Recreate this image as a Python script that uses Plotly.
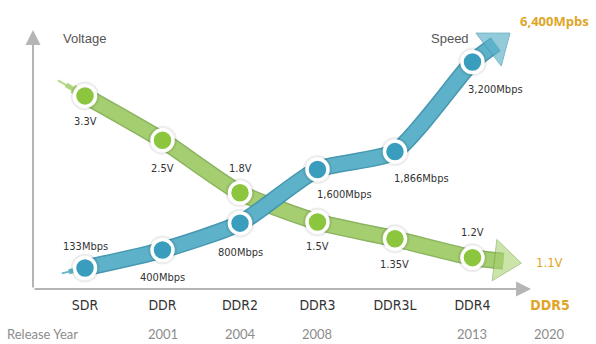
import math
import plotly.graph_objects as go

# ---- data -------------------------------------------------------------
generations = ["SDR", "DDR", "DDR2", "DDR3", "DDR3L", "DDR4", "DDR5"]
release_years = ["", "2001", "2004", "2008", "", "2013", "2020"]

voltage_v = [3.3, 2.5, 1.8, 1.5, 1.35, 1.2]
voltage_labels = ["3.3V", "2.5V", "1.8V", "1.5V", "1.35V", "1.2V"]

speed_mbps = [133, 400, 800, 1600, 1866, 3200]
speed_labels = ["133Mbps", "400Mbps", "800Mbps", "1,600Mbps", "1,866Mbps", "3,200Mbps"]

ddr5_voltage = 1.1
ddr5_voltage_label = "1.1V"
ddr5_speed_label = "6,400Mpbs"

# ---- styles -----------------------------------------------------------
GREEN_BAND = "#a9d373"
GREEN_EDGE = "#78a746"
GREEN_DOT = "#8cc63f"
BLUE_BAND = "#5fb3ca"
BLUE_EDGE = "#3e93ad"
BLUE_DOT = "#3b9dbd"
GOLD = "#e0a526"
LABEL_FONT = "DejaVu Sans Condensed, Roboto, sans-serif"

n = len(voltage_v)
xs = list(range(n))
logv = [math.log10(v) for v in voltage_v]

# label offsets (pixels) for the value captions
volt_dy = [-26, -28, 24, -25, -26, 25]
volt_dx = [0, 0, 0, 0, 0, 0]
speed_dy = [21, -27, -29, -25, -27, -28]
speed_dx = [0, 0, 0, 27, 27, 23]

fig = go.Figure()


def band(x, y, axis, fill, edge, tail_x, tail_y, tip_x, tip_y, alpha):
    # tapered tail drawn as overlapping strokes of growing width
    for frac, w in [(1.0, 2), (0.7, 5), (0.45, 9), (0.2, 13)]:
        sx = x[0] + (tail_x - x[0]) * frac
        sy = y[0] + (tail_y - y[0]) * frac
        fig.add_trace(go.Scatter(
            x=[sx, x[0]], y=[sy, y[0]], yaxis=axis, mode="lines",
            line=dict(color=fill, width=w), hoverinfo="skip", showlegend=False,
            opacity=alpha))
    bx = list(x) + [tip_x]
    by = list(y) + [tip_y]
    fig.add_trace(go.Scatter(
        x=bx, y=by, yaxis=axis, mode="lines",
        line=dict(color=edge, width=17, shape="spline", smoothing=0.6),
        hoverinfo="skip", showlegend=False, opacity=alpha))
    fig.add_trace(go.Scatter(
        x=bx, y=by, yaxis=axis, mode="lines+markers",
        line=dict(color=fill, width=14, shape="spline", smoothing=0.6),
        marker=dict(symbol="triangle-up", angleref="previous",
                    size=[0] * len(x) + [36], color=fill,
                    line=dict(color=edge, width=1)),
        hoverinfo="skip", showlegend=False, opacity=alpha))


# speed band (linear scale), drawn first so the voltage band sits over it
s_tail = speed_mbps[0] - (speed_mbps[1] - speed_mbps[0]) * 0.3
s_tip = speed_mbps[-1] + (speed_mbps[-1] - speed_mbps[-2]) * 0.2
band(xs, speed_mbps, "y2", BLUE_BAND, BLUE_EDGE, -0.3, s_tail, n - 1 + 0.3, s_tip, 0.95)

# voltage band (log scale), tail and head extrapolated from the series
v_tail = 10 ** (logv[0] + (logv[0] - logv[1]) * 0.35)
v_tip = 10 ** (logv[-1] + (math.log10(ddr5_voltage) - logv[-1]) * 0.25)
band(xs, voltage_v, "y", GREEN_BAND, GREEN_EDGE, -0.35, v_tail, n - 1 + 0.4, v_tip, 0.85)

# circle markers with a soft halo
for vals, axis, col in [(voltage_v, "y", GREEN_DOT), (speed_mbps, "y2", BLUE_DOT)]:
    fig.add_trace(go.Scatter(
        x=xs, y=vals, yaxis=axis, mode="markers",
        marker=dict(size=29, color="rgba(0,0,0,0.07)"),
        hoverinfo="skip", showlegend=False))
    fig.add_trace(go.Scatter(
        x=xs, y=vals, yaxis=axis, mode="markers",
        marker=dict(size=21, color=col, line=dict(color="white", width=3.5)),
        hoverinfo="skip", showlegend=False))

annotations = []

# value captions
for i in range(n):
    annotations.append(dict(
        x=xs[i], y=logv[i], xref="x", yref="y", text=voltage_labels[i],
        showarrow=False, xshift=volt_dx[i], yshift=volt_dy[i],
        xanchor="center", yanchor="middle",
        font=dict(family=LABEL_FONT, size=11, color="#333333")))
    annotations.append(dict(
        x=xs[i], y=speed_mbps[i], xref="x", yref="y2", text=speed_labels[i],
        showarrow=False, xshift=speed_dx[i], yshift=speed_dy[i],
        xanchor="center", yanchor="middle",
        font=dict(family=LABEL_FONT, size=11, color="#333333")))

# DDR5 voltage target
annotations.append(dict(
    x=n, y=math.log10(ddr5_voltage), xref="x", yref="y", text=ddr5_voltage_label,
    showarrow=False, yshift=9, xanchor="center", yanchor="middle",
    font=dict(family=LABEL_FONT, size=13, color=GOLD)))

# DDR5 speed target
annotations.append(dict(
    x=0.931, y=0.927, xref="paper", yref="paper", text="<b>" + ddr5_speed_label + "</b>",
    showarrow=False, xanchor="center", yanchor="middle",
    font=dict(family="Open Sans, sans-serif", size=13, color=GOLD)))

# series titles
for txt, px in [("Voltage", 0.1426), ("Speed", 0.755)]:
    annotations.append(dict(
        x=px, y=0.8685, xref="paper", yref="paper", text=txt, showarrow=False,
        xanchor="center", yanchor="middle",
        font=dict(family="Liberation Sans, Arial, sans-serif", size=13, color="#555555")))

# release year row
annotations.append(dict(
    x=0.072, y=-0.1557, xref="paper", yref="paper", text="Release Year", showarrow=False,
    xanchor="center", yanchor="middle",
    font=dict(family="Lato, Open Sans, sans-serif", size=13, color="#8c8c8c")))
for i, yr in enumerate(release_years):
    if yr:
        annotations.append(dict(
            x=i, y=-0.1557, xref="x", yref="paper", text=yr, showarrow=False,
            xanchor="center", yanchor="middle",
            font=dict(family="Lato, Open Sans, sans-serif", size=13, color="#8c8c8c")))

# axis arrows
annotations.append(dict(
    x=0.0554, y=0.896, xref="paper", yref="paper", ax=0, ay=259, axref="pixel", ayref="pixel",
    text="", showarrow=True, arrowhead=2, arrowsize=1.5, arrowwidth=2, arrowcolor="#b5b5b5"))
annotations.append(dict(
    x=0.891, y=0.0, xref="paper", yref="paper", ax=-498, ay=0, axref="pixel", ayref="pixel",
    text="", showarrow=True, arrowhead=2, arrowsize=1.5, arrowwidth=2, arrowcolor="#b5b5b5"))

ticktext = [g if g != "DDR5" else "<b><span style='color:%s'>%s</span></b>" % (GOLD, g)
            for g in generations]

fig.update_layout(
    width=596, height=344,
    margin=dict(l=0, r=0, t=0, b=55),
    paper_bgcolor="white", plot_bgcolor="white",
    xaxis=dict(range=[-1.097, 6.594], tickvals=list(range(len(generations))),
               ticktext=ticktext, showgrid=False, zeroline=False, showline=False,
               ticks="", ticklabelstandoff=6,
               tickfont=dict(family=LABEL_FONT, size=14, color="#333333")),
    yaxis=dict(type="log", range=[-0.006, 0.779], visible=False),
    yaxis2=dict(range=[-180, 4123], overlaying="y", visible=False),
    annotations=annotations,
)

fig.write_html("out.html")
